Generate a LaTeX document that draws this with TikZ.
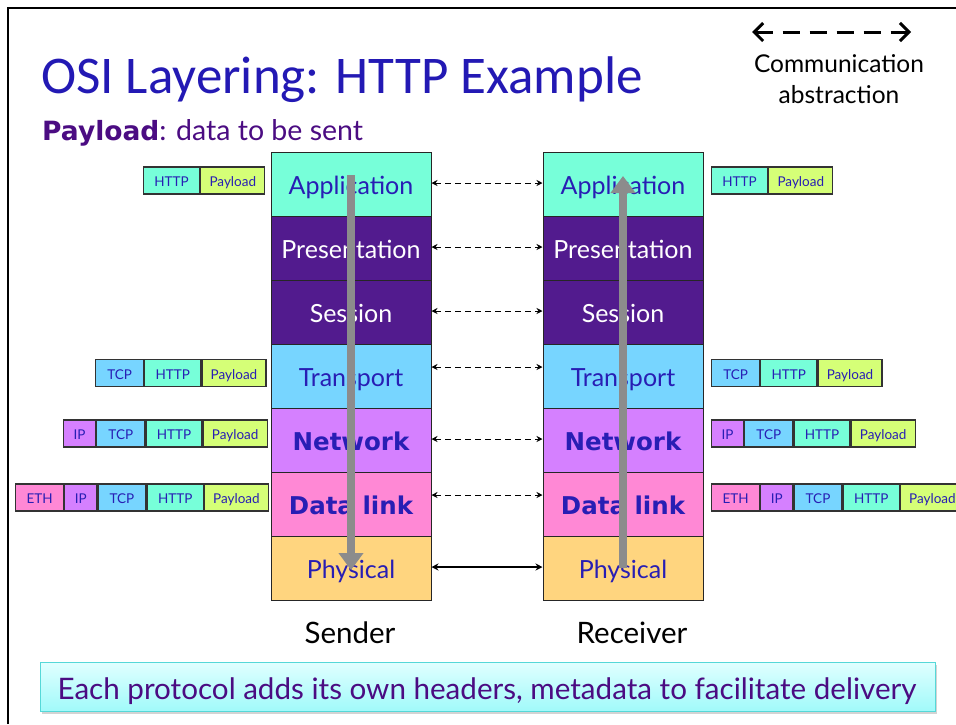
\documentclass[tikz,border=0pt]{standalone}
\usepackage{fontspec}
\setmainfont{Lato}
\newfontfamily\titlefont{Carlito}
\newfontfamily\heavyfont{DejaVu Sans}
\usetikzlibrary{arrows.meta,shadows}

\definecolor{titleblue}{RGB}{35,25,180}
\definecolor{deeppurple}{RGB}{75,12,130}
\definecolor{layertext}{RGB}{40,30,180}
\definecolor{appc}{RGB}{119,255,217}
\definecolor{presc}{RGB}{82,27,142}
\definecolor{transc}{RGB}{119,213,255}
\definecolor{netc}{RGB}{213,128,255}
\definecolor{datac}{RGB}{255,136,213}
\definecolor{physc}{RGB}{255,213,127}
\definecolor{payc}{RGB}{213,255,119}
\definecolor{flowgray}{RGB}{140,140,140}
\definecolor{notetop}{RGB}{224,255,255}
\definecolor{notebot}{RGB}{160,250,250}
\definecolor{noteedge}{RGB}{85,216,216}

\tikzset{
  layer/.style={draw=black!85, line width=1pt, minimum width=160pt, minimum height=64pt,
    inner sep=0pt, text height=20pt, text depth=0pt,
    font=\fontsize{25}{25}\selectfont, text=layertext},
  heavylayer/.style={layer, font=\heavyfont\bfseries\fontsize{24.5}{25}\selectfont},
  darklayer/.style={layer, fill=presc, text=white},
  pkt/.style={draw=black!80, line width=1.2pt, minimum height=27pt, inner sep=0pt,
    text height=12.5pt, text depth=0pt,
    font=\fontsize{13.5}{14}\selectfont, text=layertext, anchor=west},
  peer/.style={dashed, dash pattern=on 6pt off 4pt, line width=0.9pt,
    {Stealth[length=6pt,width=6pt]}-{Stealth[length=6pt,width=6pt]}},
  wire/.style={line width=1.6pt, {Stealth[length=7pt,width=7pt]}-{Stealth[length=7pt,width=7pt]}},
  flow/.style={draw=flowgray, line width=8pt, -{Triangle[length=17pt,width=24pt]}},
  hostlabel/.style={anchor=base, inner sep=0pt, font=\fontsize{29.5}{30}\selectfont},
}

\begin{document}
\begin{tikzpicture}[x=1pt,y=-1pt]
\useasboundingbox (0,0) rectangle (956,724);

% slide frame
\draw[line width=2pt] (7.5,724) -- (7.5,7.5) -- (956,7.5);

% heading
\node[anchor=base west, inner sep=0pt, text=titleblue, font=\titlefont\fontsize{53}{53}\selectfont]
  (title) at (41,93) {OSI Layering: HTTP Example};
\node[anchor=base west, inner sep=0pt, text=deeppurple, font=\fontsize{28.5}{29}\selectfont]
  (sub) at (42,140) {{\heavyfont\bfseries\fontsize{26.5}{27}\selectfont Payload}: data to be sent};

% legend
\coordinate (legL) at (752,32);
\coordinate (legR) at (911,32);
\draw[line width=3pt, dash pattern=on 17pt off 10pt,
  {Straight Barb[length=9pt,width=18pt,line width=3pt]}-{Straight Barb[length=9pt,width=18pt,line width=3pt]}]
  (legL) -- (legR);
\node[anchor=base, inner sep=0pt, font=\fontsize{24.5}{25}\selectfont] (legtxt1) at (839,72) {Communication};
\node[anchor=base, inner sep=0pt, font=\fontsize{24.5}{25}\selectfont] (legtxt2) at (839,103) {abstraction};

% sender stack
\node[layer, fill=appc]        (sApp) at (351,184) {Application};
\node[darklayer]               (sPre) at (351,248) {Presentation};
\node[darklayer]               (sSes) at (351,312) {Session};
\node[layer, fill=transc]      (sTra) at (351,376) {Transport};
\node[heavylayer, fill=netc]   (sNet) at (351,440) {Network};
\node[heavylayer, fill=datac]  (sDat) at (351,504) {Data link};
\node[layer, fill=physc]       (sPhy) at (351,568) {Physical};

% receiver stack
\node[layer, fill=appc]        (rApp) at (623,184) {Application};
\node[darklayer]               (rPre) at (623,248) {Presentation};
\node[darklayer]               (rSes) at (623,312) {Session};
\node[layer, fill=transc]      (rTra) at (623,376) {Transport};
\node[heavylayer, fill=netc]   (rNet) at (623,440) {Network};
\node[heavylayer, fill=datac]  (rDat) at (623,504) {Data link};
\node[layer, fill=physc]       (rPhy) at (623,568) {Physical};

% peer-to-peer links
\draw[peer] ([yshift=1pt]sApp.east) -- ([yshift=1pt]rApp.west);
\draw[peer] ([yshift=1pt]sPre.east) -- ([yshift=1pt]rPre.west);
\draw[peer] ([yshift=1pt]sSes.east) -- ([yshift=1pt]rSes.west);
\draw[peer] ([yshift=9pt]sTra.east) -- ([yshift=9pt]rTra.west);
\draw[peer] ([yshift=1pt]sNet.east) -- ([yshift=1pt]rNet.west);
\draw[peer] ([yshift=9pt]sDat.east) -- ([yshift=9pt]rDat.west);
\draw[wire] ([yshift=1pt]sPhy.east) -- ([yshift=1pt]rPhy.west);

% data flow through the stacks
\coordinate (sTop) at (351,175);
\coordinate (sBot) at (351,570);
\coordinate (rBot) at (623,568);
\coordinate (rTop) at (623,176);
\draw[flow] (sTop) -- (sBot);
\draw[flow] (rBot) -- (rTop);

% sender-side packets
\node[pkt, fill=appc,   minimum width=56pt] (sa1) at (143,180.5) {HTTP};
\node[pkt, fill=payc,   minimum width=64pt] (sa2) at (sa1.east) {Payload};

\node[pkt, fill=transc, minimum width=48pt] (st1) at (95,373) {TCP};
\node[pkt, fill=appc,   minimum width=56pt] (st2) at (st1.east) {HTTP};
\node[pkt, fill=payc,   minimum width=64pt] (st3) at (st2.east) {Payload};

\node[pkt, fill=netc,   minimum width=32pt] (sn1) at (63,433.5) {IP};
\node[pkt, fill=transc, minimum width=48pt] (sn2) at (sn1.east) {TCP};
\node[pkt, fill=appc,   minimum width=56pt] (sn3) at (sn2.east) {HTTP};
\node[pkt, fill=payc,   minimum width=64pt] (sn4) at (sn3.east) {Payload};

\node[pkt, fill=datac,  minimum width=48pt] (sd1) at (15,497.5) {ETH};
\node[pkt, fill=netc,   minimum width=32pt] (sd2) at (sd1.east) {IP};
\node[pkt, fill=transc, minimum width=48pt] (sd3) at (sd2.east) {TCP};
\node[pkt, fill=appc,   minimum width=56pt] (sd4) at (sd3.east) {HTTP};
\node[pkt, fill=payc,   minimum width=64pt] (sd5) at (sd4.east) {Payload};

% receiver-side packets
\node[pkt, fill=appc,   minimum width=56pt] (ra1) at (711,180.5) {HTTP};
\node[pkt, fill=payc,   minimum width=64pt] (ra2) at (ra1.east) {Payload};

\node[pkt, fill=transc, minimum width=48pt] (rt1) at (711,373) {TCP};
\node[pkt, fill=appc,   minimum width=56pt] (rt2) at (rt1.east) {HTTP};
\node[pkt, fill=payc,   minimum width=64pt] (rt3) at (rt2.east) {Payload};

\node[pkt, fill=netc,   minimum width=32pt] (rn1) at (711,433.5) {IP};
\node[pkt, fill=transc, minimum width=48pt] (rn2) at (rn1.east) {TCP};
\node[pkt, fill=appc,   minimum width=56pt] (rn3) at (rn2.east) {HTTP};
\node[pkt, fill=payc,   minimum width=64pt] (rn4) at (rn3.east) {Payload};

\node[pkt, fill=datac,  minimum width=48pt] (rd1) at (711,497.5) {ETH};
\node[pkt, fill=netc,   minimum width=32pt] (rd2) at (rd1.east) {IP};
\node[pkt, fill=transc, minimum width=48pt] (rd3) at (rd2.east) {TCP};
\node[pkt, fill=appc,   minimum width=56pt] (rd4) at (rd3.east) {HTTP};
\node[pkt, fill=payc,   minimum width=64pt] (rd5) at (rd4.east) {Payload};

% host labels
\node[hostlabel] (sender)   at (350,643) {Sender};
\node[hostlabel] (receiver) at (632,643) {Receiver};

% takeaway banner
\node[draw=noteedge, line width=1pt, top color=notetop, bottom color=notebot,
  minimum width=895pt, minimum height=49pt, inner sep=0pt,
  drop shadow={opacity=0.35, shadow xshift=2pt, shadow yshift=-2.5pt}] (note) at (487.5,687) {};
\node[anchor=base, inner sep=0pt, text=deeppurple, font=\fontsize{29.6}{30}\selectfont]
  (notetext) at (487,699) {Each protocol adds its own headers, metadata to facilitate delivery};
\end{tikzpicture}
\end{document}
